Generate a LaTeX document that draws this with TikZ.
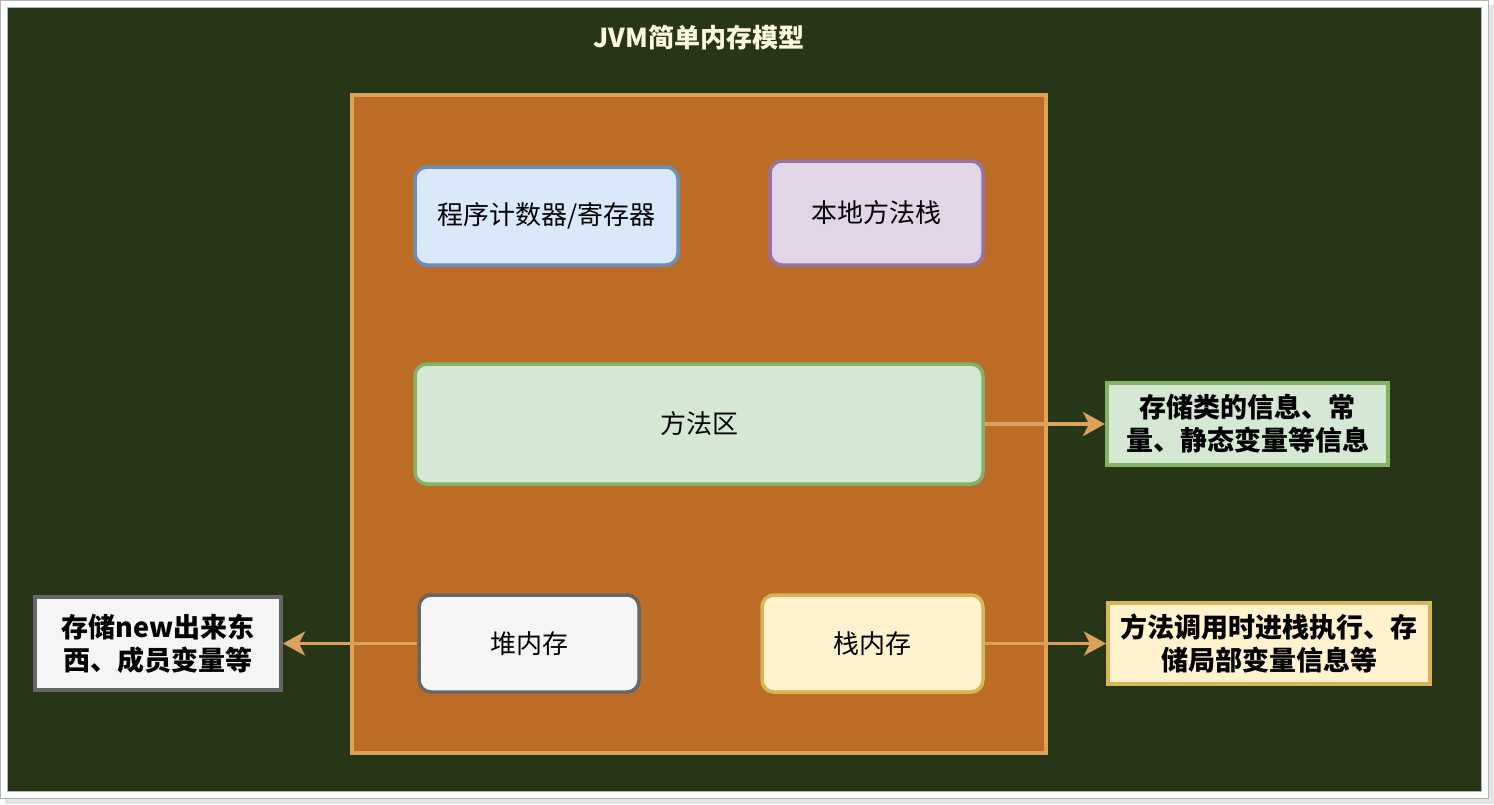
\documentclass[tikz,border=0pt]{standalone}
\usepackage{fontspec}
\setmainfont{Noto Sans CJK SC}
\usetikzlibrary{arrows.meta}

% earth palette
\definecolor{bgdark}{HTML}{283618}
\definecolor{rust}{HTML}{BC6C25}
\definecolor{sand}{HTML}{DDA15E}
\definecolor{cream}{HTML}{FEFAE0}
\definecolor{framegray}{HTML}{B5B5B5}
\definecolor{shadowgray}{HTML}{E3E3E3}
% box palette
\definecolor{blueFill}{HTML}{DAE8FC}\definecolor{blueLine}{HTML}{6C8EBF}
\definecolor{purpleFill}{HTML}{E1D5E7}\definecolor{purpleLine}{HTML}{9673A6}
\definecolor{greenFill}{HTML}{D5E8D4}\definecolor{greenLine}{HTML}{82B366}
\definecolor{grayFill}{HTML}{F5F5F5}\definecolor{grayLine}{HTML}{666666}
\definecolor{yellowFill}{HTML}{FFF2CC}\definecolor{yellowLine}{HTML}{D6B656}

\tikzset{
  area/.style={draw, line width=3.5pt, rounded corners=12pt, inner sep=0pt,
    align=center, font=\fontsize{26}{33}\selectfont},
  note/.style={draw, line width=4pt, inner sep=0pt, align=center,
    font=\fontsize{27}{33}\selectfont\bfseries},
  link/.style={draw=sand, line width=3.5pt,
    -{Stealth[length=22pt,width=24pt,inset=6pt]}},
}

\begin{document}
\begin{tikzpicture}[x=1pt,y=-1pt]
\useasboundingbox (0,0) rectangle (1494,804);

% page frame with drop shadow
\fill[shadowgray] (5,5) rectangle (1494,804);
\draw[framegray, fill=white, line width=1pt] (0.5,0.5) rectangle (1488,798);
\draw[framegray, fill=bgdark, line width=1pt] (7.5,7.5) rectangle (1481,791);

% title
\node[text=cream, font=\fontsize{26}{30}\selectfont\bfseries] (title) at (699,38) {JVM简单内存模型};

% JVM container
\node[draw=sand, fill=rust, line width=3.5pt, minimum width=694pt, minimum height=658pt, inner sep=0pt] (jvm) at (699,424) {};

% runtime areas
\node[area, draw=blueLine, fill=blueFill, minimum width=263pt, minimum height=98pt] (pc) at (546.5,216) {程序计数器/寄存器};
\node[area, draw=purpleLine, fill=purpleFill, minimum width=213pt, minimum height=104pt] (native) at (876.5,213) {本地方法栈};
\node[area, draw=greenLine, fill=greenFill, minimum width=568pt, minimum height=120pt] (method) at (699,424) {方法区};
\node[area, draw=grayLine, fill=grayFill, minimum width=220pt, minimum height=97pt] (heap) at (529,643.5) {堆内存};
\node[area, draw=yellowLine, fill=yellowFill, minimum width=221pt, minimum height=97pt] (stack) at (872.5,643.5) {栈内存};

% explanations
\node[note, draw=greenLine, fill=greenFill, minimum width=281pt, minimum height=82pt] (info1) at (1247.5,424) {存储类的信息、常\\量、静态变量等信息};
\node[note, draw=yellowLine, fill=yellowFill, minimum width=322pt, minimum height=81pt] (info2) at (1269,643.5) {方法调用时进栈执行、存\\储局部变量信息等};
\node[note, draw=grayLine, fill=grayFill, minimum width=246pt, minimum height=93pt] (info3) at (158,643.5) {存储new出来东\\西、成员变量等};

% connectors
\draw[link] (method.east) -- (info1.west);
\draw[link] (stack.east) -- (info2.west);
\draw[link] (heap.west) -- (info3.east);
\end{tikzpicture}
\end{document}
